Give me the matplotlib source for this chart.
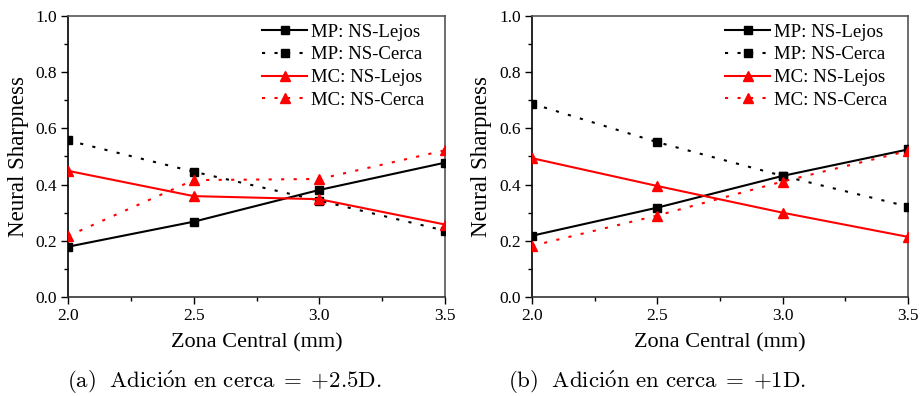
import matplotlib.pyplot as plt
from matplotlib.ticker import MultipleLocator

# zona central (mm)
zona = [2.0, 2.5, 3.0, 3.5]

# adicion +2.5D
mp_lejos_a = [0.179, 0.268, 0.381, 0.478]
mp_cerca_a = [0.557, 0.446, 0.343, 0.236]
mc_lejos_a = [0.449, 0.359, 0.348, 0.258]
mc_cerca_a = [0.217, 0.416, 0.420, 0.522]

# adicion +1D
mp_lejos_b = [0.218, 0.318, 0.431, 0.525]
mp_cerca_b = [0.688, 0.551, 0.431, 0.322]
mc_lejos_b = [0.494, 0.395, 0.300, 0.214]
mc_cerca_b = [0.182, 0.290, 0.411, 0.520]

etiquetas = ["MP: NS-Lejos", "MP: NS-Cerca", "MC: NS-Lejos", "MC: NS-Cerca"]
leyendas = [r"$\mathrm{(a)\ \ Adici\acute{o}n\ en\ cerca}\;=\;{+}2.5\mathrm{D.}$",
            r"$\mathrm{(b)\ \ Adici\acute{o}n\ en\ cerca}\;=\;{+}1\mathrm{D.}$"]

plt.rcParams["font.family"] = ["Liberation Serif", "DejaVu Serif"]
plt.rcParams["mathtext.fontset"] = "cm"

fig = plt.figure(figsize=(9.23, 3.96), dpi=100)
ax1 = fig.add_axes([0.0737, 0.25, 0.4084, 0.7096])
ax2 = fig.add_axes([0.5764, 0.25, 0.4073, 0.7096])

puntos = (0, (1.5, 4.5))
for ax, series in [(ax1, [mp_lejos_a, mp_cerca_a, mc_lejos_a, mc_cerca_a]),
                   (ax2, [mp_lejos_b, mp_cerca_b, mc_lejos_b, mc_cerca_b])]:
    ax.plot(zona, series[0], color="black", lw=1.5, marker="s", ms=6, label=etiquetas[0], zorder=3)
    ax.plot(zona, series[1], color="black", lw=1.5, ls=puntos, marker="s", ms=6, label=etiquetas[1], zorder=3)
    ax.plot(zona, series[2], color="red", lw=1.5, marker="^", ms=7, label=etiquetas[2], zorder=3)
    ax.plot(zona, series[3], color="red", lw=1.5, ls=puntos, marker="^", ms=7, label=etiquetas[3], zorder=3)

    ax.set_xlim(2.0, 3.5)
    ax.set_ylim(0.0, 1.0)
    ax.xaxis.set_major_locator(MultipleLocator(0.5))
    ax.xaxis.set_minor_locator(MultipleLocator(0.25))
    ax.yaxis.set_major_locator(MultipleLocator(0.2))
    ax.yaxis.set_minor_locator(MultipleLocator(0.1))
    ax.xaxis.set_major_formatter(plt.FormatStrFormatter("%.1f"))
    ax.yaxis.set_major_formatter(plt.FormatStrFormatter("%.1f"))
    ax.tick_params(which="major", direction="out", length=5, width=1, labelsize=12.5, pad=3)
    ax.tick_params(which="minor", direction="out", length=3, width=1)
    for lado in ["top", "right"]:
        ax.spines[lado].set_color("#555555")
    ax.spines["left"].set_color("black")
    ax.spines["bottom"].set_color("#333333")
    for s in ax.spines.values():
        s.set_linewidth(1.2)

    ax.set_xlabel("Zona Central (mm)", fontsize=16)
    ax.set_ylabel("Neural Sharpness", fontsize=16.5)
    ax.xaxis.set_label_coords(0.5, -0.13)

    ax.legend(loc="upper right", bbox_to_anchor=(0.965, 1.0), frameon=False,
              fontsize=13.5, handlelength=2.4, handletextpad=0.2,
              labelspacing=0.3, borderaxespad=0.1, borderpad=0.3)

ax1.yaxis.set_label_coords(-0.103, 0.5)
ax2.yaxis.set_label_coords(-0.106, 0.5)

fig.text(224 / 923, 1 - 382 / 396, leyendas[0], ha="center", va="center", fontsize=16.5)
fig.text(657 / 923, 1 - 382 / 396, leyendas[1], ha="center", va="center", fontsize=16.5)

fig.savefig("out.png", dpi=100)
